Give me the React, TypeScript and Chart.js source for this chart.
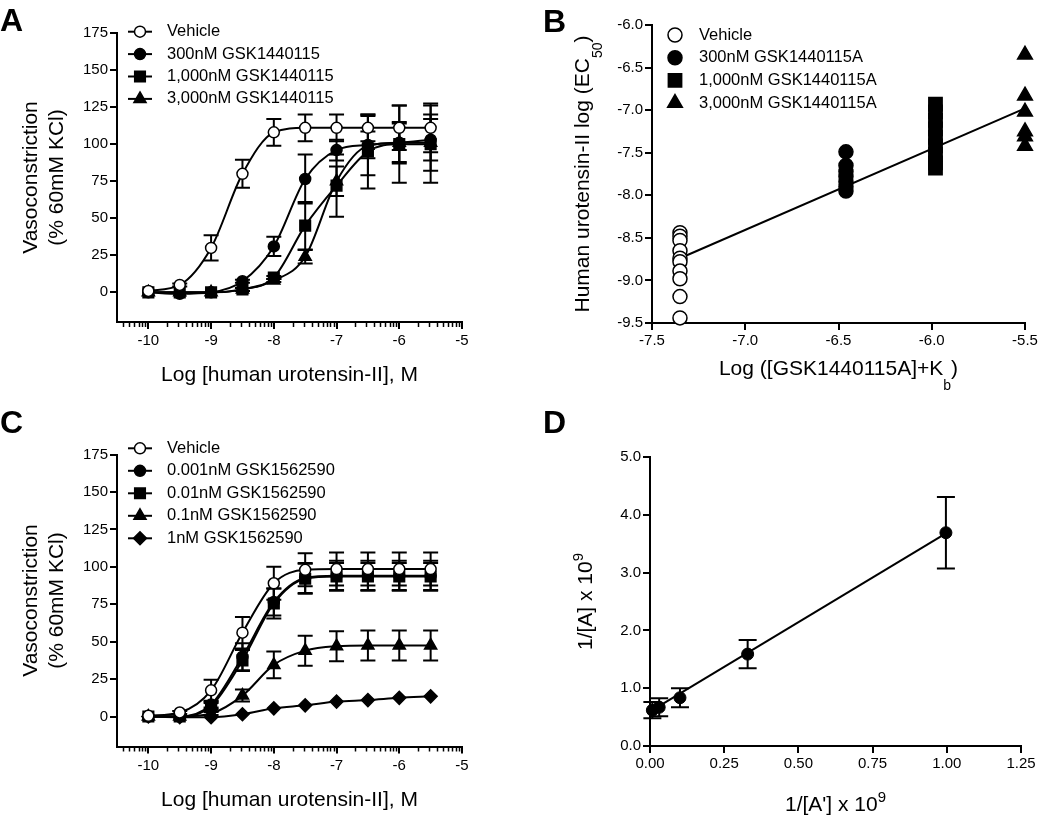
import React, { useEffect, useRef } from 'react';
import { Chart, registerables } from 'chart.js';

Chart.register(...registerables);

const FONT = "'Liberation Sans', Arial, Helvetica, sans-serif";
const PAGE_W = 1039;
const PAGE_H = 815;

// ---------------- Panel A data ----------------
const logConc = [-10, -9.5, -9, -8.5, -8, -7.5, -7, -6.5, -6, -5.5];
const aLabels = ['Vehicle', '300nM GSK1440115', '1,000nM GSK1440115', '3,000nM GSK1440115'];
const aVehicle = [1, 5, 30, 80, 108, 111, 111, 111, 111, 111];
const aVehicleErr = [0, 1, 8.5, 9.5, 9, 9, 9, 9, 15, 16.5];
const a300 = [0, -1, 0, 7.5, 31, 76.5, 96, 99.5, 101, 103];
const a300Err = [0, 0, 0, 1, 6.5, 16.5, 7, 9, 14, 14];
const a1000 = [0, 0, 0, 2, 10, 45, 72, 95, 100, 100];
const a1000Err = [0, 0, 0, 1, 1, 16, 21, 25, 26, 26];
const a3000 = [0, 0, 0, 2, 8, 24, 75, 99, 101, 101];
const a3000Err = [0, 0, 0, 1, 1, 4.5, 10, 20, 13, 19];
const concXTicks = [-10, -9, -8, -7, -6, -5];
const responseYTicks = [0, 25, 50, 75, 100, 125, 150, 175];

// ---------------- Panel C data ----------------
const cLabels = ['Vehicle', '0.001nM GSK1562590', '0.01nM GSK1562590', '0.1nM GSK1562590', '1nM GSK1562590'];
const cVehicle = [0.5, 2.7, 17.5, 56, 89, 98, 98.5, 98.5, 98.5, 98.5];
const cVehicleErr = [0, 1, 7, 10.5, 11, 11, 11, 11, 11, 11];
const c0001 = [0, 0, 8, 40, 76.5, 92.5, 94, 94, 94, 94];
const c0001Err = [0, 0, 2, 9, 9, 10, 10, 10, 10, 10];
const c001 = [0, 0, 7, 37.5, 75.5, 92, 93.5, 93.5, 93.5, 93.5];
const c001Err = [0, 0, 2, 7, 10, 10, 9, 9, 9, 9];
const c01 = [0, 0, 2, 14, 34.5, 44, 47, 47.5, 47.5, 47.5];
const c01Err = [0, 0, 1, 4, 9, 10, 10, 10, 10, 10];
const c1 = [0, -0.5, -0.5, 1.5, 5.5, 7.5, 10, 11, 12.5, 13.5];
const c1Err = [0, 0, 0, 0, 0, 0, 0, 0, 0, 0];

// ---------------- Panel B data ----------------
const bLabels = ['Vehicle', '300nM GSK1440115A', '1,000nM GSK1440115A', '3,000nM GSK1440115A'];
const bVehicleX = -7.35;
const bVehicle = [-8.44, -8.48, -8.53, -8.65, -8.74, -8.78, -8.89, -8.98, -9.19, -9.44];
const b300X = -6.46;
const b300 = [-7.49, -7.65, -7.72, -7.78, -7.84, -7.9, -7.95];
const b1000X = -5.98;
const b1000 = [-6.93, -7.02, -7.12, -7.22, -7.32, -7.42, -7.52, -7.62, -7.68];
const b3000X = -5.5;
const b3000 = [-6.35, -6.83, -7.02, -7.25, -7.31, -7.42];
const bFitX = [-7.35, -5.5];
const bFitY = [-8.74, -6.98];
const bXTicks = [-7.5, -7.0, -6.5, -6.0, -5.5];
const bYTicks = [-9.5, -9.0, -8.5, -8.0, -7.5, -7.0, -6.5, -6.0];

// ---------------- Panel D data ----------------
const dX = [0.008, 0.031, 0.101, 0.329, 0.997];
const dY = [0.62, 0.67, 0.835, 1.59, 3.69];
const dErr = [0.14, 0.155, 0.165, 0.245, 0.62];
const dFitX = [0.008, 0.997];
const dFitY = [0.62, 3.68];
const dXTicks = [0, 0.25, 0.5, 0.75, 1.0, 1.25];
const dYTicks = [0, 1, 2, 3, 4, 5];

// ---------------- helpers ----------------
const Y_AXIS_W = 60;
const X_AXIS_H = 40;

function drawMarker(ctx: CanvasRenderingContext2D, style: string, x: number, y: number, r: number, fill: string, bw: number) {
  ctx.beginPath();
  if (style === 'rect') {
    const s = Math.SQRT1_2 * r;
    ctx.rect(x - s, y - s, 2 * s, 2 * s);
  } else if (style === 'triangle') {
    let rad = 0;
    ctx.moveTo(x + Math.sin(rad) * r, y - Math.cos(rad) * r);
    rad += (2 * Math.PI) / 3;
    ctx.lineTo(x + Math.sin(rad) * r, y - Math.cos(rad) * r);
    rad += (2 * Math.PI) / 3;
    ctx.lineTo(x + Math.sin(rad) * r, y - Math.cos(rad) * r);
    ctx.closePath();
  } else if (style === 'rectRot') {
    ctx.moveTo(x - r, y);
    ctx.lineTo(x, y - r);
    ctx.lineTo(x + r, y);
    ctx.lineTo(x, y + r);
    ctx.closePath();
  } else {
    ctx.arc(x, y, r, 0, Math.PI * 2);
  }
  ctx.fillStyle = fill;
  ctx.fill();
  if (bw) {
    ctx.lineWidth = bw;
    ctx.strokeStyle = '#000';
    ctx.stroke();
  }
}

const errorBarPlugin = {
  id: 'errorBars',
  beforeDatasetsDraw(chart: any, _a: any, o: any) {
    if (!o || !o.cap) return;
    const ctx = chart.ctx;
    chart.data.datasets.forEach((ds: any, i: number) => {
      if (!ds.errors) return;
      const meta = chart.getDatasetMeta(i);
      const xs = meta.xScale;
      const ys = meta.yScale;
      ds.data.forEach((p: any, j: number) => {
        const e = ds.errors[j];
        if (!e) return;
        const px = xs.getPixelForValue(p.x);
        const top = ys.getPixelForValue(p.y + e);
        const bot = ys.getPixelForValue(p.y - e);
        ctx.save();
        ctx.strokeStyle = '#000';
        ctx.lineWidth = 2;
        ctx.beginPath();
        ctx.moveTo(px, top);
        ctx.lineTo(px, bot);
        ctx.moveTo(px - o.cap / 2, top);
        ctx.lineTo(px + o.cap / 2, top);
        ctx.moveTo(px - o.cap / 2, bot);
        ctx.lineTo(px + o.cap / 2, bot);
        ctx.stroke();
        ctx.restore();
      });
    });
  },
};

const minorTicksPlugin = {
  id: 'minorTicks',
  afterDraw(chart: any, _a: any, o: any) {
    if (!o || !o.len) return;
    const xs = chart.scales.x;
    const ctx = chart.ctx;
    const y0 = chart.chartArea.bottom + 1;
    ctx.save();
    ctx.strokeStyle = '#000';
    ctx.lineWidth = 1.5;
    for (let d = Math.floor(xs.min) - 1; d < xs.max; d++) {
      for (let k = 2; k <= 9; k++) {
        const v = d + Math.log10(k);
        if (v < xs.min || v > xs.max) continue;
        const px = Math.round(xs.getPixelForValue(v)) + 0.5;
        ctx.beginPath();
        ctx.moveTo(px, y0);
        ctx.lineTo(px, y0 + o.len);
        ctx.stroke();
      }
    }
    ctx.restore();
  },
};

const lineLegendPlugin = {
  id: 'lineLegend',
  afterDraw(chart: any, _a: any, o: any) {
    if (!o || o.x === undefined) return;
    const ctx = chart.ctx;
    let row = 0;
    chart.data.datasets.forEach((ds: any) => {
      if (!ds.inLegend) return;
      const y = o.y0 + row * o.dy;
      row++;
      ctx.save();
      if (o.line) {
        ctx.strokeStyle = '#000';
        ctx.lineWidth = 2;
        ctx.beginPath();
        ctx.moveTo(o.x - o.half, y);
        ctx.lineTo(o.x + o.half, y);
        ctx.stroke();
      }
      drawMarker(ctx, ds.pointStyle, o.x, y, ds.pointRadius, ds.pointBackgroundColor, ds.pointBorderWidth);
      ctx.fillStyle = '#000';
      ctx.font = `${o.size}px ${FONT}`;
      ctx.textBaseline = 'middle';
      ctx.textAlign = 'left';
      ctx.fillText(ds.label, o.textX, y);
      ctx.restore();
    });
  },
};

const richTextPlugin = {
  id: 'richText',
  afterDraw(chart: any, _a: any, o: any) {
    if (!o || !o.items) return;
    const ctx = chart.ctx;
    for (const item of o.items) {
      ctx.save();
      ctx.translate(item.x, item.y);
      if (item.rot) ctx.rotate(item.rot);
      ctx.fillStyle = '#000';
      ctx.textBaseline = 'alphabetic';
      ctx.textAlign = 'left';
      const fontOf = (s: any) => `${s.bold ? 'bold ' : ''}${s.size}px ${FONT}`;
      let total = 0;
      const widths: number[] = [];
      for (const s of item.segs) {
        ctx.font = fontOf(s);
        const w = ctx.measureText(s.t).width;
        widths.push(w);
        total += w;
      }
      let x = item.align === 'left' ? 0 : -total / 2;
      item.segs.forEach((s: any, i: number) => {
        ctx.font = fontOf(s);
        ctx.fillText(s.t, x, s.dy || 0);
        x += widths[i];
      });
      ctx.restore();
    }
  },
};

Chart.register(errorBarPlugin, minorTicksPlugin, lineLegendPlugin, richTextPlugin);

function axis(min: number, max: number, tickVals: number[], fmt: (v: number) => string, pad: number, horizontal: boolean) {
  return {
    type: 'linear',
    min,
    max,
    afterBuildTicks: (s: any) => {
      s.ticks = tickVals.map((v) => ({ value: v }));
    },
    afterFit: (s: any) => {
      if (horizontal) {
        s.height = X_AXIS_H;
        s.paddingLeft = 0;
        s.paddingRight = 0;
      } else {
        s.width = Y_AXIS_W;
        s.paddingTop = 0;
        s.paddingBottom = 0;
      }
    },
    ticks: {
      color: '#000',
      font: { size: 15, family: FONT },
      padding: pad,
      autoSkip: false,
      maxRotation: 0,
      minRotation: 0,
      callback: (v: any) => fmt(Number(v)),
    },
    grid: {
      display: true,
      drawOnChartArea: false,
      drawTicks: true,
      tickLength: 7,
      tickWidth: 2,
      tickColor: '#000',
      color: '#000',
      lineWidth: 2,
    },
    border: { display: true, color: '#000', width: 2 },
  };
}

type Area = { l: number; t: number; r: number; b: number };

function makeOptions(area: Area, x: any, y: any, plugins: any) {
  return {
    responsive: false,
    maintainAspectRatio: false,
    animation: false,
    events: [],
    layout: {
      padding: {
        left: area.l - Y_AXIS_W,
        top: area.t,
        right: PAGE_W - area.r,
        bottom: PAGE_H - area.b - X_AXIS_H,
      },
    },
    scales: { x, y },
    plugins: {
      legend: { display: false },
      tooltip: { enabled: false },
      ...plugins,
    },
  };
}

function curveSet(label: string, ys: number[], errs: number[], style: string, radius: number, fill: string, order: number) {
  return {
    type: 'line',
    label,
    order,
    data: logConc.map((x, i) => ({ x, y: ys[i] })),
    errors: errs,
    borderColor: '#000',
    borderWidth: 2,
    cubicInterpolationMode: 'monotone',
    fill: false,
    pointStyle: style,
    pointRadius: radius,
    pointBackgroundColor: fill,
    pointBorderColor: '#000',
    pointBorderWidth: 1.5,
    clip: false,
    inLegend: true,
  };
}

function groupSet(label: string, xv: number, ys: number[], style: string, radius: number, fill: string, order: number) {
  return {
    type: 'line',
    label,
    order,
    data: ys.map((y) => ({ x: xv, y })),
    showLine: false,
    pointStyle: style,
    pointRadius: radius,
    pointBackgroundColor: fill,
    pointBorderColor: '#000',
    pointBorderWidth: 1.5,
    clip: false,
    inLegend: true,
  };
}

function fitSet(xs: number[], ys: number[], order: number) {
  return {
    type: 'line',
    label: 'fit',
    order,
    data: xs.map((x, i) => ({ x, y: ys[i] })),
    borderColor: '#000',
    borderWidth: 2,
    pointRadius: 0,
    fill: false,
    clip: false,
    inLegend: false,
  };
}

const intFmt = (v: number) => String(v);
const f1 = (v: number) => v.toFixed(1);
const f2 = (v: number) => v.toFixed(2);

function vasoTitle(cy: number) {
  return [
    { x: 37, y: cy, rot: -Math.PI / 2, segs: [{ t: 'Vasoconstriction', size: 21 }] },
    { x: 62.5, y: cy, rot: -Math.PI / 2, segs: [{ t: '(% 60mM KCl)', size: 21 }] },
  ];
}

function buildA(canvas: HTMLCanvasElement) {
  const area = { l: 117, t: 33, r: 462, b: 322 };
  return new Chart(canvas, {
    type: 'line',
    data: {
      datasets: [
        curveSet(aLabels[0], aVehicle, aVehicleErr, 'circle', 5.5, '#fff', 0),
        curveSet(aLabels[1], a300, a300Err, 'circle', 5.5, '#000', 1),
        curveSet(aLabels[2], a1000, a1000Err, 'rect', 7.5, '#000', 2),
        curveSet(aLabels[3], a3000, a3000Err, 'triangle', 7, '#000', 3),
      ] as any,
    },
    options: makeOptions(
      area,
      axis(-10.5, -5, concXTicks, intFmt, 3, true),
      axis(-20, 175, responseYTicks, intFmt, 2, false),
      {
        errorBars: { cap: 15 },
        minorTicks: { len: 4 },
        lineLegend: { x: 140, half: 12, textX: 167, y0: 31.7, dy: 22.4, size: 16.5, line: true },
        richText: {
          items: [
            { x: 0, y: 31, align: 'left', segs: [{ t: 'A', size: 32, bold: true }] },
            ...vasoTitle(177.5),
            { x: 289.5, y: 381, segs: [{ t: 'Log [human urotensin-II], M', size: 21 }] },
          ],
        },
      }
    ) as any,
  } as any);
}

function buildC(canvas: HTMLCanvasElement) {
  const area = { l: 117, t: 454.5, r: 462, b: 746.5 };
  return new Chart(canvas, {
    type: 'line',
    data: {
      datasets: [
        curveSet(cLabels[0], cVehicle, cVehicleErr, 'circle', 5.5, '#fff', 0),
        curveSet(cLabels[1], c0001, c0001Err, 'circle', 5.5, '#000', 2),
        curveSet(cLabels[2], c001, c001Err, 'rect', 7.5, '#000', 1),
        curveSet(cLabels[3], c01, c01Err, 'triangle', 7, '#000', 3),
        curveSet(cLabels[4], c1, c1Err, 'rectRot', 6.5, '#000', 4),
      ] as any,
    },
    options: makeOptions(
      area,
      axis(-10.5, -5, concXTicks, intFmt, 3, true),
      axis(-20, 175, responseYTicks, intFmt, 2, false),
      {
        errorBars: { cap: 15 },
        minorTicks: { len: 4 },
        lineLegend: { x: 140, half: 12, textX: 167, y0: 448.3, dy: 22.5, size: 16.5, line: true },
        richText: {
          items: [
            { x: 0, y: 433, align: 'left', segs: [{ t: 'C', size: 32, bold: true }] },
            ...vasoTitle(600.5),
            { x: 289.5, y: 806, segs: [{ t: 'Log [human urotensin-II], M', size: 21 }] },
          ],
        },
      }
    ) as any,
  } as any);
}

function buildB(canvas: HTMLCanvasElement) {
  const area = { l: 652, t: 25, r: 1025, b: 323 };
  return new Chart(canvas, {
    type: 'line',
    data: {
      datasets: [
        groupSet(bLabels[0], bVehicleX, bVehicle, 'circle', 7, '#fff', 0),
        groupSet(bLabels[1], b300X, b300, 'circle', 7, '#000', 1),
        groupSet(bLabels[2], b1000X, b1000, 'rect', 9.4, '#000', 2),
        groupSet(bLabels[3], b3000X, b3000, 'triangle', 8.5, '#000', 3),
        fitSet(bFitX, bFitY, 5),
      ] as any,
    },
    options: makeOptions(
      area,
      axis(-7.5, -5.5, bXTicks, f1, 2, true),
      axis(-9.5, -6.0, bYTicks, f1, 2, false),
      {
        lineLegend: { x: 675, half: 0, textX: 699, y0: 35, dy: 22.7, size: 16.5, line: false },
        richText: {
          items: [
            { x: 543, y: 31.5, align: 'left', segs: [{ t: 'B', size: 32, bold: true }] },
            {
              x: 589,
              y: 174,
              rot: -Math.PI / 2,
              segs: [
                { t: 'Human urotensin-II log (EC', size: 21 },
                { t: '50', size: 14, dy: 13 },
                { t: ')', size: 21 },
              ],
            },
            {
              x: 838.5,
              y: 375,
              segs: [
                { t: 'Log ([GSK1440115A]+K', size: 21 },
                { t: 'b', size: 14, dy: 15 },
                { t: ')', size: 21 },
              ],
            },
          ],
        },
      }
    ) as any,
  } as any);
}

function buildD(canvas: HTMLCanvasElement) {
  const area = { l: 650, t: 457, r: 1021, b: 746 };
  const points = {
    type: 'line',
    label: 'data',
    order: 0,
    data: dX.map((x, i) => ({ x, y: dY[i] })),
    errors: dErr,
    showLine: false,
    pointStyle: 'circle',
    pointRadius: 6,
    pointBackgroundColor: '#000',
    pointBorderColor: '#000',
    pointBorderWidth: 1,
    clip: false,
    inLegend: false,
  };
  return new Chart(canvas, {
    type: 'line',
    data: { datasets: [points, fitSet(dFitX, dFitY, 1)] as any },
    options: makeOptions(
      area,
      axis(0, 1.25, dXTicks, f2, 1.5, true),
      axis(0, 5, dYTicks, f1, 2, false),
      {
        errorBars: { cap: 18 },
        richText: {
          items: [
            { x: 543, y: 433, align: 'left', segs: [{ t: 'D', size: 32, bold: true }] },
            {
              x: 592,
              y: 601.5,
              rot: -Math.PI / 2,
              segs: [
                { t: '1/[A] x 10', size: 21 },
                { t: '9', size: 15, dy: -9 },
              ],
            },
            {
              x: 835.5,
              y: 811,
              segs: [
                { t: "1/[A'] x 10", size: 21 },
                { t: '9', size: 15, dy: -9 },
              ],
            },
          ],
        },
      }
    ) as any,
  } as any);
}

export default function App() {
  const refA = useRef<HTMLCanvasElement>(null);
  const refB = useRef<HTMLCanvasElement>(null);
  const refC = useRef<HTMLCanvasElement>(null);
  const refD = useRef<HTMLCanvasElement>(null);

  useEffect(() => {
    Chart.defaults.font.family = FONT;
    Chart.defaults.color = '#000';
    const charts = [
      buildA(refA.current as HTMLCanvasElement),
      buildB(refB.current as HTMLCanvasElement),
      buildC(refC.current as HTMLCanvasElement),
      buildD(refD.current as HTMLCanvasElement),
    ];
    return () => charts.forEach((c) => c.destroy());
  }, []);

  const canvasStyle: React.CSSProperties = {
    position: 'absolute',
    left: 0,
    top: 0,
    width: PAGE_W,
    height: PAGE_H,
  };

  return (
    <div
      style={{
        position: 'absolute',
        left: 0,
        top: 0,
        width: PAGE_W,
        height: PAGE_H,
        background: '#fff',
        overflow: 'hidden',
      }}
    >
      <canvas ref={refA} width={PAGE_W} height={PAGE_H} style={canvasStyle} />
      <canvas ref={refB} width={PAGE_W} height={PAGE_H} style={canvasStyle} />
      <canvas ref={refC} width={PAGE_W} height={PAGE_H} style={canvasStyle} />
      <canvas ref={refD} width={PAGE_W} height={PAGE_H} style={canvasStyle} />
    </div>
  );
}
